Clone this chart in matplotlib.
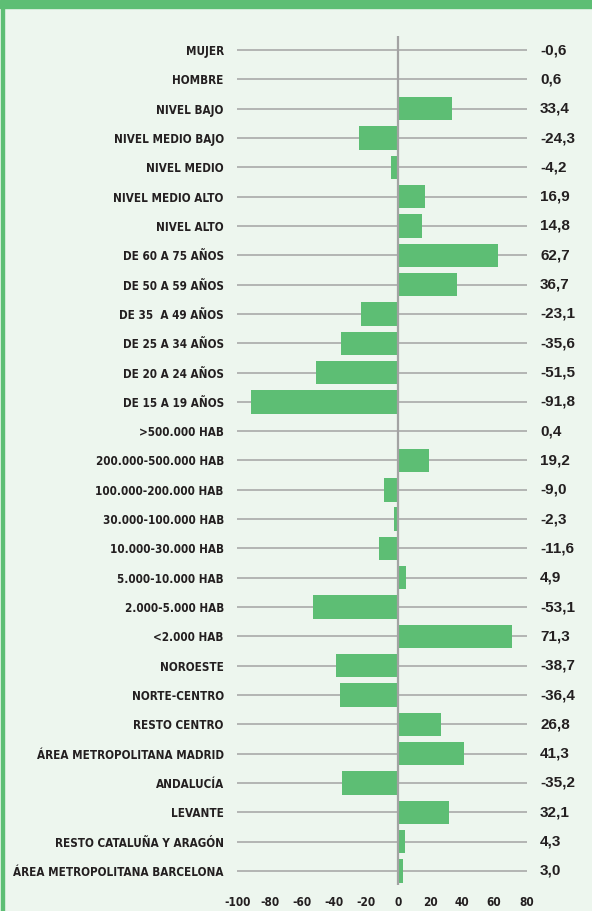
import matplotlib.pyplot as plt
from matplotlib.patches import Rectangle
from matplotlib import font_manager as fm
from matplotlib.textpath import TextPath

categories = [
    "MUJER", "HOMBRE", "NIVEL BAJO", "NIVEL MEDIO BAJO", "NIVEL MEDIO",
    "NIVEL MEDIO ALTO", "NIVEL ALTO", "DE 60 A 75 AÑOS", "DE 50 A 59 AÑOS",
    "DE 35  A 49 AÑOS", "DE 25 A 34 AÑOS", "DE 20 A 24 AÑOS", "DE 15 A 19 AÑOS",
    ">500.000 HAB", "200.000-500.000 HAB", "100.000-200.000 HAB",
    "30.000-100.000 HAB", "10.000-30.000 HAB", "5.000-10.000 HAB",
    "2.000-5.000 HAB", "<2.000 HAB", "NOROESTE", "NORTE-CENTRO",
    "RESTO CENTRO", "ÁREA METROPOLITANA MADRID", "ANDALUCÍA", "LEVANTE",
    "RESTO CATALUÑA Y ARAGÓN", "ÁREA METROPOLITANA BARCELONA",
]
values = [
    -0.6, 0.6, 33.4, -24.3, -4.2, 16.9, 14.8, 62.7, 36.7, -23.1, -35.6,
    -51.5, -91.8, 0.4, 19.2, -9.0, -2.3, -11.6, 4.9, -53.1, 71.3, -38.7,
    -36.4, 26.8, 41.3, -35.2, 32.1, 4.3, 3.0,
]
xticks = [-100, -80, -60, -40, -20, 0, 20, 40, 60, 80]

BG = "#edf6ee"
GREEN = "#5dbe74"
GRID = "#a3a3a3"
TEXT = "#231f20"

# look for a narrow bold face, fall back to DejaVu Sans bold
narrow = None
for key in ["LiberationSansNarrow-Bold", "DejaVuSansCondensed-Bold", "RobotoCondensed-Bold"]:
    for f in fm.fontManager.ttflist:
        if key.lower() in f.fname.lower().replace("_", "").replace(" ", ""):
            narrow = f.fname
            break
    if narrow:
        break
if narrow:
    lab_font = fm.FontProperties(fname=narrow)
else:
    lab_font = fm.FontProperties(family="DejaVu Sans", weight="bold")

# size so the longest label is ~209 px wide (as in the reference)
w1 = TextPath((0, 0), categories[-1], size=1, prop=lab_font).get_extents().width
lab_size = min(9.5, 209 / w1 * 72 / 100)
lab_font.set_size(lab_size)

fig = plt.figure(figsize=(5.92, 9.11), dpi=100, facecolor=BG)
ax = fig.add_axes([237 / 592, 1 - 885 / 911, 290 / 592, 849 / 911])
ax.set_facecolor(BG)

# green frame bits
fig.patches.append(Rectangle((0, 1 - 8 / 911), 1, 8 / 911, transform=fig.transFigure,
                             color=GREEN, zorder=0))
fig.patches.append(Rectangle((1 / 592, 0), 3 / 592, 1, transform=fig.transFigure,
                             color=GREEN, zorder=0))

ypos = list(range(len(categories)))
for y in ypos:
    ax.axhline(y, color=GRID, lw=1.1, zorder=1)
ax.barh(ypos, values, height=0.8, color=GREEN, zorder=2)
ax.axvline(0, color=GRID, lw=1.6, zorder=3)

ax.set_xlim(-100.5, 80.5)
ax.set_ylim(len(categories) - 0.52, -0.48)

ax.set_yticks(ypos)
ax.set_yticklabels(categories, color=TEXT, fontproperties=lab_font)
ax.tick_params(axis="y", length=0, pad=9.5)

tick_font = lab_font.copy()
tick_font.set_size(8.5)
ax.set_xticks(xticks)
ax.set_xticklabels([str(t) for t in xticks], color=TEXT, fontproperties=tick_font)
ax.tick_params(axis="x", length=0, pad=8)

for y, v in zip(ypos, values):
    lab = f"{v:.1f}".replace(".", ",")
    ax.text(1.045, y, lab, transform=ax.get_yaxis_transform(), ha="left", va="center",
            fontsize=11, fontweight="bold", color=TEXT,
            family=["Liberation Sans", "DejaVu Sans"])

for s in ax.spines.values():
    s.set_visible(False)

fig.savefig("out.png", dpi=100, facecolor=BG)
